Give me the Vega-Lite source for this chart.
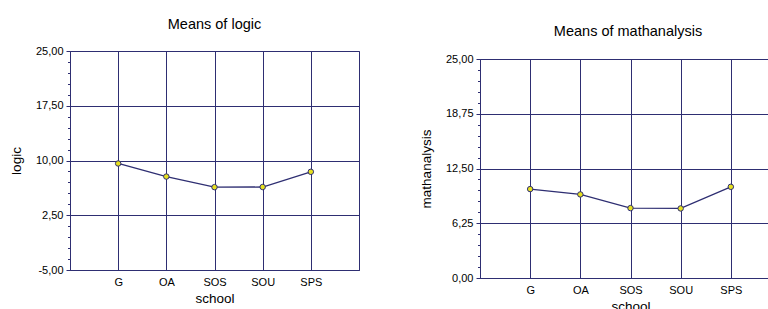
{
  "$schema": "https://vega.github.io/schema/vega-lite/v6.json",
  "background": "white",
  "padding": {"left": 8, "top": 16, "right": 0, "bottom": 0},
  "data": {"values": [
    {"school": "G", "logic": 9.59, "mathanalysis": 10.15},
    {"school": "OA", "logic": 7.8, "mathanalysis": 9.54},
    {"school": "SOS", "logic": 6.35, "mathanalysis": 7.98},
    {"school": "SOU", "logic": 6.37, "mathanalysis": 7.94},
    {"school": "SPS", "logic": 8.45, "mathanalysis": 10.41}
  ]},
  "spacing": 58,
  "hconcat": [
    {
      "width": 289,
      "height": 219,
      "title": {"text": "Means of logic"},
      "layer": [
        {
          "mark": {"type": "line", "color": "#2e2e72", "strokeWidth": 1.3},
          "encoding": {
            "x": {"field": "school", "type": "ordinal", "sort": null, "scale": {"type": "point", "padding": 1},
                  "axis": {"title": "school", "labelAngle": 0, "grid": true, "ticks": false, "labelPadding": 6, "titlePadding": 4}},
            "y": {"field": "logic", "type": "quantitative", "scale": {"domain": [-5, 25], "nice": false, "zero": false},
                  "axis": {"title": "logic", "values": [-5, 2.5, 10, 17.5, 25], "labelExpr": "(datum.value < 0 ? '-' : '') + replace(format(abs(datum.value), '.2f'), '.', ',')", "tickSize": 4, "labelPadding": 3, "titlePadding": 12, "grid": true}}
          }
        },
        {
          "mark": {"type": "point", "filled": true, "fill": "#e6e020", "stroke": "#2e2e72", "strokeWidth": 1, "size": 30, "opacity": 1},
          "encoding": {
            "x": {"field": "school", "type": "ordinal", "sort": null},
            "y": {"field": "logic", "type": "quantitative",
                  "axis": {"orient": "left", "title": null, "labels": false, "grid": false, "domain": false, "tickSize": 2.5,
                           "values": [-3.5, -2, -0.5, 1, 4, 5.5, 7, 8.5, 11.5, 13, 14.5, 16, 19, 20.5, 22, 23.5]}}
          }
        }
      ],
      "resolve": {"axis": {"y": "independent"}}
    },
    {
      "title": {"text": "Means of mathanalysis", "anchor": "middle", "frame": "group", "offset": 11.5, "dx": 148},
      "spacing": 0,
      "bounds": "flush",
      "vconcat": [
        {
          "width": 301,
          "height": 8,
          "data": {"values": []},
          "view": {"stroke": null},
          "mark": "point",
          "encoding": {}
        },
        {
          "width": 301,
          "height": 219,
          "layer": [
            {
              "mark": {"type": "line", "color": "#2e2e72", "strokeWidth": 1.3},
              "encoding": {
                "x": {"field": "school", "type": "ordinal", "sort": null, "scale": {"type": "point", "padding": 1},
                      "axis": {"title": "school", "labelAngle": 0, "grid": true, "ticks": false, "labelPadding": 6, "titlePadding": 4}},
                "y": {"field": "mathanalysis", "type": "quantitative", "scale": {"domain": [0, 25], "nice": false, "zero": false},
                      "axis": {"title": "mathanalysis", "values": [0, 6.25, 12.5, 18.75, 25], "labelExpr": "replace(format(datum.value, '.2f'), '.', ',')", "tickSize": 4, "labelPadding": 3, "titlePadding": 12, "grid": true}}
              }
            },
            {
              "mark": {"type": "point", "filled": true, "fill": "#e6e020", "stroke": "#2e2e72", "strokeWidth": 1, "size": 30, "opacity": 1},
              "encoding": {
                "x": {"field": "school", "type": "ordinal", "sort": null},
                "y": {"field": "mathanalysis", "type": "quantitative",
                      "axis": {"orient": "left", "title": null, "labels": false, "grid": false, "domain": false, "tickSize": 2.5,
                               "values": [1.25, 2.5, 3.75, 5, 7.5, 8.75, 10, 11.25, 13.75, 15, 16.25, 17.5, 20, 21.25, 22.5, 23.75]}}
              }
            }
          ],
          "resolve": {"axis": {"y": "independent"}}
        }
      ]
    }
  ],
  "config": {
    "font": "Liberation Sans",
    "view": {"stroke": "#2e2e72", "strokeWidth": 1},
    "title": {"font": "Liberation Sans", "fontSize": 14.5, "fontWeight": "normal", "color": "black", "offset": 13},
    "axis": {
      "domainColor": "#2e2e72", "gridColor": "#2e2e72", "gridOpacity": 1, "gridWidth": 1, "tickColor": "#2e2e72",
      "labelColor": "black", "titleColor": "black", "labelFont": "Liberation Sans", "titleFont": "Liberation Sans",
      "labelFontSize": 11, "titleFontSize": 13.5, "titleFontWeight": "normal"
    }
  }
}
